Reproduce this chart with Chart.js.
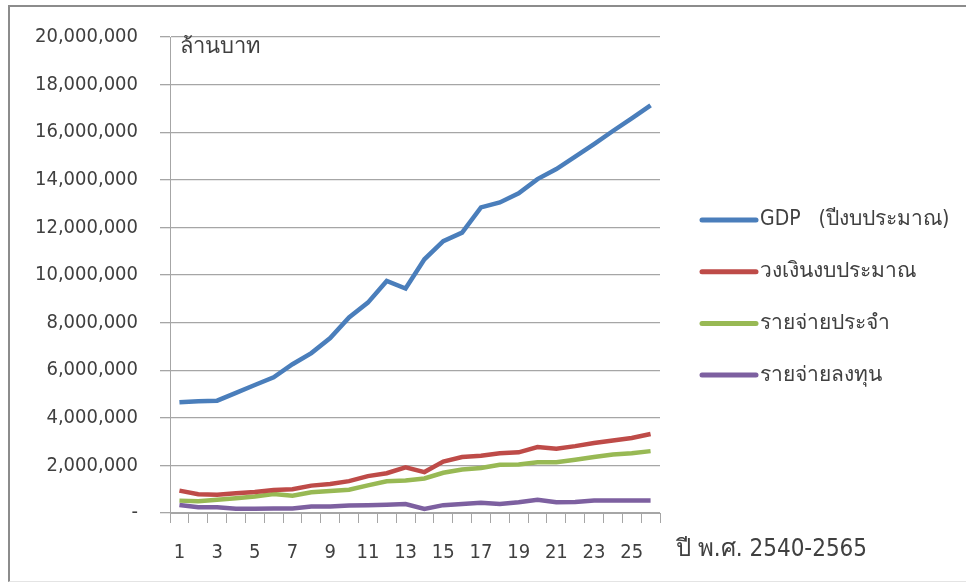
<!DOCTYPE html>
<html lang="th">
<head>
<meta charset="UTF-8">
<title>GDP และงบประมาณ 2540-2565</title>
<script src="https://cdn.jsdelivr.net/npm/chart.js"></script>
<style>
  html, body { margin: 0; padding: 0; background: #fff; }
  #wrap { position: relative; width: 966px; height: 583px; overflow: hidden; }
  #frame { position: absolute; left: 8px; top: 5px; right: -10px; bottom: 1px;
           border-top: 2px solid #8c8c8c; border-left: 2px solid #8c8c8c;
           border-bottom: 1px solid #e4e4e4; }
  canvas { position: absolute; left: 0; top: 0; }
</style>
</head>
<body>
<div id="wrap">
  <div id="frame"></div>
  <canvas id="chart" width="966" height="583"></canvas>
</div>
<script>
// ปีที่ 1-26 = พ.ศ. 2540-2565 (หน่วย ล้านบาท)
const years = Array.from({ length: 26 }, (_, i) => String(i + 1));

const gdp = [4650000, 4700000, 4720000, 5050000, 5380000, 5700000, 6250000, 6720000, 7350000, 8220000,
             8840000, 9750000, 9430000, 10660000, 11420000, 11780000, 12840000, 13050000, 13430000, 14030000,
             14450000, 14970000, 15500000, 16050000, 16580000, 17130000];
const budget = [940000, 790000, 770000, 830000, 880000, 970000, 1000000, 1150000, 1220000, 1340000,
                1550000, 1670000, 1920000, 1720000, 2160000, 2350000, 2410000, 2510000, 2550000, 2770000,
                2700000, 2810000, 2940000, 3050000, 3150000, 3320000];
const regular = [520000, 490000, 560000, 620000, 690000, 800000, 730000, 870000, 920000, 980000,
                 1160000, 1330000, 1370000, 1450000, 1690000, 1830000, 1890000, 2030000, 2040000, 2130000,
                 2130000, 2240000, 2350000, 2460000, 2510000, 2600000];
const capital = [340000, 240000, 240000, 180000, 180000, 190000, 190000, 270000, 270000, 310000,
                 330000, 350000, 380000, 170000, 330000, 380000, 430000, 380000, 450000, 560000,
                 450000, 460000, 520000, 520000, 520000, 520000];

const seriesNames = ['GDP   (ปีงบประมาณ)', 'วงเงินงบประมาณ', 'รายจ่ายประจำ', 'รายจ่ายลงทุน'];
const seriesColors = ['#4a7ebb', '#be4b48', '#98b954', '#7d60a0'];
const unitLabel = 'ล้านบาท';
const xTitle = 'ปี พ.ศ. 2540-2565';

const textColor = '#404040';
const gridColor = '#a6a6a6';
const font = '"DejaVu Sans Condensed", "DejaVu Sans", Tahoma, sans-serif';

// legend on the right, unit text and x-axis caption
const extras = {
  id: 'extras',
  afterDraw(chart) {
    const ctx = chart.ctx;
    const area = chart.chartArea;
    ctx.save();
    ctx.fillStyle = textColor;
    ctx.textBaseline = 'middle';
    ctx.font = '22px ' + font;
    ctx.fillText(unitLabel, area.left + 10, area.top + 10);
    ctx.font = '24px ' + font;
    ctx.fillText(xTitle, 676, 550);

    ctx.font = '21px ' + font;
    chart.data.datasets.forEach((ds, i) => {
      const y = 220 + i * 51.7;
      ctx.strokeStyle = ds.borderColor;
      ctx.lineWidth = 5;
      ctx.lineCap = 'round';
      ctx.beginPath();
      ctx.moveTo(702, y);
      ctx.lineTo(756, y);
      ctx.stroke();
      ctx.fillText(ds.label, 760, y);
    });
    ctx.restore();
  }
};

const datasets = [gdp, budget, regular, capital].map((data, i) => ({
  label: seriesNames[i],
  data,
  borderColor: seriesColors[i],
  backgroundColor: seriesColors[i],
  borderWidth: 4.5,
  pointRadius: 0,
  tension: 0,
  fill: false
}));

new Chart(document.getElementById('chart'), {
  type: 'line',
  data: { labels: years, datasets },
  plugins: [extras],
  options: {
    responsive: false,
    animation: false,
    layout: { padding: { left: 0, right: 306, top: 37, bottom: 0 } },
    plugins: { legend: { display: false }, tooltip: { enabled: false } },
    scales: {
      x: {
        offset: true,
        grid: { offset: true, drawOnChartArea: false, drawTicks: true, tickLength: 10, color: gridColor },
        border: { color: gridColor },
        ticks: {
          autoSkip: false, maxRotation: 0, padding: 18, color: textColor,
          font: { family: font, size: 20 },
          callback: (v, i) => (i % 2 === 0 ? years[i] : '')
        },
        afterFit: s => { s.height = 70; }
      },
      y: {
        min: 0, max: 20000000,
        ticks: {
          stepSize: 2000000, padding: 22, color: textColor,
          font: { family: font, size: 20 },
          callback: v => (v === 0 ? '-' : v.toLocaleString('en-US'))
        },
        grid: { color: gridColor, tickLength: 10, lineWidth: 1.3 },
        border: { color: gridColor },
        afterFit: s => { s.width = 170; }
      }
    }
  }
});
</script>
</body>
</html>
